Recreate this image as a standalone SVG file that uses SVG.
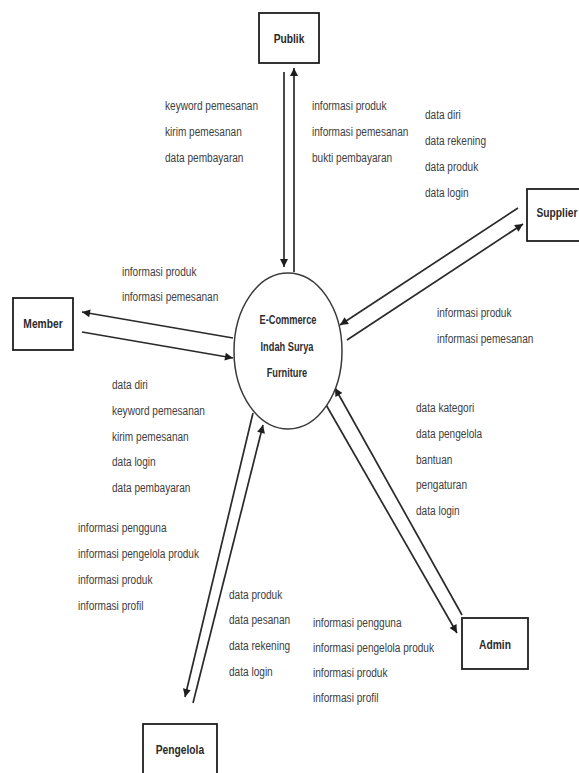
<svg xmlns="http://www.w3.org/2000/svg" width="579" height="773" viewBox="0 0 579 773">
<style>
.bg{fill:#ffffff}
.box{fill:#ffffff;stroke:#1e1e1e;stroke-width:1.8}
.proc{fill:#ffffff;stroke:#3a3a3a;stroke-width:1.5}
.nl{font-family:"Liberation Sans",Arial,sans-serif;font-size:13.5px;font-weight:bold;fill:#2a2a2a;text-anchor:middle}
.pl{font-family:"Liberation Sans",Arial,sans-serif;font-size:12.5px;font-weight:bold;fill:#2e2e2e;text-anchor:middle}
.lb{font-family:"Liberation Sans",Arial,sans-serif;font-size:13.5px;fill:#404040}
.ar{fill:none;stroke:#2a2a2a;stroke-width:1.7;marker-end:url(#ah)}
</style>
<defs>
<marker id="ah" viewBox="0 0 10 10" refX="10" refY="5" markerUnits="userSpaceOnUse" markerWidth="11" markerHeight="8" orient="auto">
<path d="M0,0 L10,5 L0,10 z" fill="#1e1e1e"/>
</marker>
</defs>
<rect class="bg" x="0" y="0" width="579" height="773"/>

<g id="connectors">
<line class="ar" x1="284" y1="72" x2="284" y2="267"/>
<line class="ar" x1="294" y1="272" x2="294" y2="68"/>
<line class="ar" x1="518" y1="208" x2="340" y2="325"/>
<line class="ar" x1="347" y1="340" x2="523" y2="224"/>
<line class="ar" x1="233" y1="338" x2="82" y2="312"/>
<line class="ar" x1="82" y1="332" x2="233" y2="358"/>
<line class="ar" x1="253" y1="413" x2="185" y2="697"/>
<line class="ar" x1="193" y1="703" x2="263" y2="425"/>
<line class="ar" x1="325" y1="403" x2="457" y2="633"/>
<line class="ar" x1="462" y1="615" x2="335" y2="388"/>
</g>

<g id="process">
<ellipse class="proc" cx="288" cy="351" rx="54" ry="78"/>
<g transform="scale(0.74 1)">
<text class="pl" x="389.2" y="324">E-Commerce</text>
<text class="pl" x="387.8" y="351">Indah Surya</text>
<text class="pl" x="387.8" y="377">Furniture</text>
</g>
</g>

<g id="publik">
<rect class="box" x="259" y="13" width="60" height="50"/>
<text class="nl" transform="scale(0.76 1)" x="380.3" y="43">Publik</text>
</g>

<g id="supplier">
<rect class="box" x="527" y="189" width="62" height="52"/>
<text class="nl" transform="scale(0.76 1)" x="732.9" y="217">Supplier</text>
</g>

<g id="member">
<rect class="box" x="13" y="298" width="60" height="52"/>
<text class="nl" transform="scale(0.76 1)" x="56.6" y="328">Member</text>
</g>

<g id="admin">
<rect class="box" x="462" y="618" width="66" height="51"/>
<text class="nl" transform="scale(0.76 1)" x="651.3" y="649">Admin</text>
</g>

<g id="pengelola">
<rect class="box" x="143" y="724" width="74" height="60"/>
<text class="nl" transform="scale(0.76 1)" x="236.8" y="754">Pengelola</text>
</g>

<g id="labels" transform="scale(0.747 1)">
<text class="lb" x="220.9" y="110">keyword pemesanan</text>
<text class="lb" x="220.9" y="136">kirim pemesanan</text>
<text class="lb" x="220.9" y="162">data pembayaran</text>

<text class="lb" x="417.7" y="110">informasi produk</text>
<text class="lb" x="417.7" y="136">informasi pemesanan</text>
<text class="lb" x="417.7" y="162">bukti pembayaran</text>

<text class="lb" x="568.9" y="119">data diri</text>
<text class="lb" x="568.9" y="145">data rekening</text>
<text class="lb" x="568.9" y="171">data produk</text>
<text class="lb" x="568.9" y="197">data login</text>

<text class="lb" x="585" y="317">informasi produk</text>
<text class="lb" x="585" y="343">informasi pemesanan</text>

<text class="lb" x="163.3" y="276">informasi produk</text>
<text class="lb" x="163.3" y="301">informasi pemesanan</text>

<text class="lb" x="149.9" y="389">data diri</text>
<text class="lb" x="149.9" y="415">keyword pemesanan</text>
<text class="lb" x="149.9" y="441">kirim pemesanan</text>
<text class="lb" x="149.9" y="466">data login</text>
<text class="lb" x="149.9" y="492">data pembayaran</text>

<text class="lb" x="556.9" y="412">data kategori</text>
<text class="lb" x="556.9" y="438">data pengelola</text>
<text class="lb" x="556.9" y="464">bantuan</text>
<text class="lb" x="556.9" y="489">pengaturan</text>
<text class="lb" x="556.9" y="515">data login</text>

<text class="lb" x="419" y="627">informasi pengguna</text>
<text class="lb" x="419" y="652">informasi pengelola produk</text>
<text class="lb" x="419" y="677">informasi produk</text>
<text class="lb" x="419" y="702">informasi profil</text>

<text class="lb" x="104.4" y="532">informasi pengguna</text>
<text class="lb" x="104.4" y="558">informasi pengelola produk</text>
<text class="lb" x="104.4" y="584">informasi produk</text>
<text class="lb" x="104.4" y="610">informasi profil</text>

<text class="lb" x="306.6" y="599">data produk</text>
<text class="lb" x="306.6" y="624">data pesanan</text>
<text class="lb" x="306.6" y="650">data rekening</text>
<text class="lb" x="306.6" y="676">data login</text>
</g>
</svg>
